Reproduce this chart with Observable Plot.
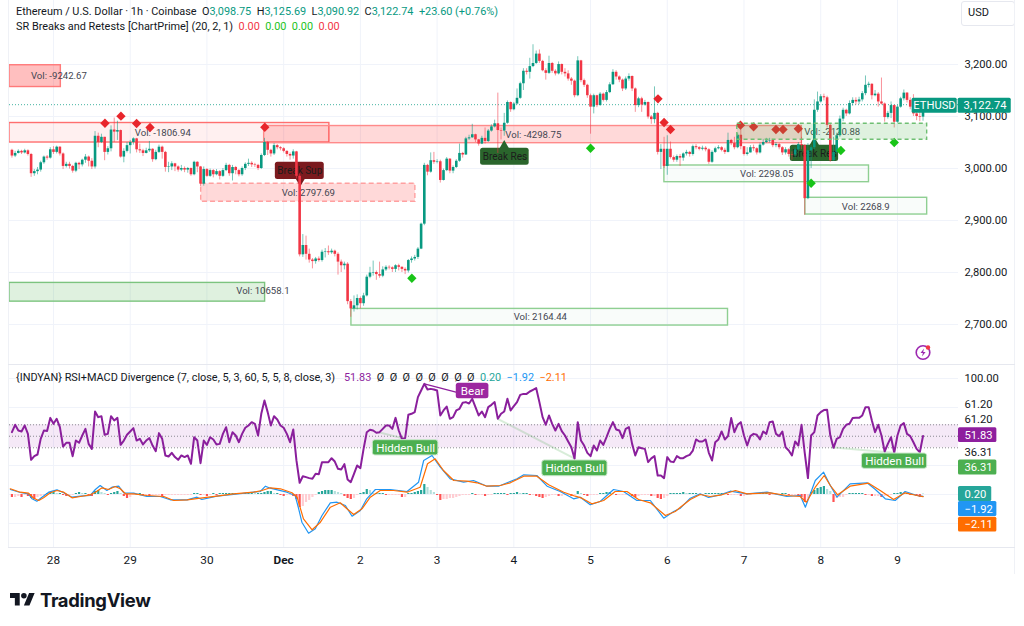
<!DOCTYPE html>
<html><head><meta charset="utf-8">
<script src="https://cdn.jsdelivr.net/npm/d3@7"></script>
<script src="https://cdn.jsdelivr.net/npm/@observablehq/plot@0.6"></script>
<style>
html,body{margin:0;padding:0;background:#fff}
#page{position:relative;width:1024px;height:626px;overflow:hidden;font-family:Roboto,sans-serif;color:#131722;background:#fff}
#page svg{position:absolute;left:0;overflow:visible;background:transparent;max-width:none}
.h{position:absolute;white-space:pre;font-size:10.9px;line-height:16px;color:#131722}
.b{color:#089981}
</style></head><body>
<div id="page">
  <div id="price"></div>
  <div id="lower"></div>
  <div id="macd"></div>
  <div class="h" style="left:16px;top:4px">Ethereum / U.S. Dollar · 1h · Coinbase  O<span class="b">3,098.75</span>  H<span class="b">3,125.69</span>  L<span class="b">3,090.92</span>  C<span class="b">3,122.74</span>  <span class="b">+23.60 (+0.76%)</span></div>
  <div class="h" style="left:16px;top:19px">SR Breaks and Retests [ChartPrime] (20, 2, 1)  <span style="color:#f23645">0.00</span>  <span style="color:#22c322">0.00</span>  <span style="color:#22c322">0.00</span>  <span style="color:#f23645">0.00</span></div>
  <div class="h" style="left:16px;top:370px">{INDYAN} RSI+MACD Divergence (7, close, 5, 3, 60, 5, 5, 8, close, 3)</div>
  <div class="h" style="left:344px;top:370px"><span style="color:#8e1f9e">51.83</span>  Ø  Ø  Ø  Ø  Ø  Ø  Ø  Ø  <span style="color:#26a69a">0.20</span>  <span style="color:#2196f3">−1.92</span>  <span style="color:#ff6d00">−2.11</span></div>
  <div style="position:absolute;left:961px;top:1px;width:52px;height:23px;border:1px solid #e6e8ef;border-radius:3px;box-sizing:content-box"><span class="h" style="left:6px;top:3px;font-size:11px">USD</span></div>
  <div style="position:absolute;left:8px;top:0;width:1px;height:547px;background:#eff1f6"></div>
  <div style="position:absolute;left:1014px;top:0;width:1px;height:574px;background:#eff1f6"></div>
  <div style="position:absolute;left:8px;top:364px;width:1007px;height:1px;background:#e6e8ef"></div>
  <div style="position:absolute;left:8px;top:547px;width:1007px;height:1px;background:#e6e8ef"></div>
  <svg style="left:914px;top:343px" width="18" height="18" viewBox="0 0 18 18"><circle cx="9" cy="9.5" r="6.8" fill="#fff" stroke="#9c27b0" stroke-width="1.6"/><path d="M10 5.5 6.5 10h2.4L8 13.5l3.6-4.6H9.2z" fill="#9c27b0"/><circle cx="14" cy="4.5" r="2.2" fill="#f23645"/></svg>
  <svg style="left:10px;top:590px" width="25" height="20" viewBox="0 0 36 28"><path d="M14 22H7V11H0V4h14v18zM28 22h-8l7.5-18h8L28 22z" fill="#131722"/><circle cx="20" cy="8" r="4" fill="#131722"/></svg>
  <div class="h" style="left:40px;top:587px;font-family:Inter,sans-serif;font-weight:700;font-size:18.4px;line-height:26px;letter-spacing:-.3px">TradingView</div>
</div>
<script>
// ---------- price candles: one row per hour, hour 0 = 28 Nov 00:00 ----------
const firstOpen = 3035;
const closes = [3024,3029,3033,3030,3034,3027,2990,2994,2997,3011,3022,3020,3036,
3031,3041,3028,3004,3008,3004,2995,3010,3007,3016,3022,3014,3003,
3062,3050,3060,3031,3038,3074,3070,3073,3022,3033,3044,3050,3057,3036,3034,3029,3034,3037,3017,3031,3041,3031,3002,3003,3009,3003,2997,3000,2997,3000,2988,3012,3003,
2970,2998,2985,2996,2988,2994,2985,2996,3006,2990,3002,2996,2988,3000,3008,3010,3007,3006,3000,3025,3050,3035,3028,3044,3040,3038,3033,3027,3024,3032,
2985,2834,2852,2835,2824,2821,2826,2823,2839,2840,2838,2841,2835,2820,2813,2816,2744,2730,2736,2750,2740,2755,2791,2799,2800,2796,2793,2805,
2810,2809,2806,2813,2810,2806,2803,2823,2826,2829,2845,2893,3006,2993,3015,3012,3013,2977,2996,3018,2995,3002,3014,3029,3026,3057,3059,3065,3055,3047,3058,3052,3072,3080,3086,3073,3072,3087,3127,3113,3124,3135,3163,3187,3185,3196,3202,3220,3206,3188,3183,3202,3187,3182,3200,
3185,3182,3172,3168,3140,3207,3169,3160,3140,3118,3140,3121,3143,3131,3146,3161,3185,3176,3170,3153,3172,3177,3153,3121,3134,3122,3127,3099,3094,3106,3031,3037,3004,3037,3021,3016,3023,3020,3028,3031,3027,3042,3040,3037,3039,3036,3012,3031,3038,3040,3035,3031,3054,3048,3040,3064,
3042,3027,3030,3040,3038,3030,3045,3050,3053,3054,3044,3046,3040,3030,3036,3027,3026,3036,3046,3044,2942,3034,3040,3112,3128,3138,3136,3083,3015,3031,3063,3095,3112,3105,3125,3131,3128,3132,3144,3160,3162,3140,3143,3128,3124,3098,3106,3121,3089,3118,3134,3145,3131,3118,3105,3100,3098.75,3122.74];
const highs = [3037,3033,3036,3035,3037,3036,3029,2998,3002,3014,3024,3025,3040,
3042,3043,3042,3030,3012,3012,3006,3012,3012,3018,3027,3024,3019,
3071,3068,3066,3060,3042,3082,3097,3091,3074,3038,3050,3054,3059,3058,3047,3037,3039,3052,3038,3035,3045,3043,3033,3012,3013,3010,3005,3006,3003,3002,3001,3014,3013,
3004,3003,3000,2999,2998,2998,2996,3000,3010,3008,3006,3004,2998,3003,3011,3018,3013,3010,3008,3028,3058,3052,3037,3048,3046,3042,3040,3034,3030,3036,
3033,2990,2873,2870,2845,2827,2829,2830,2843,2846,2851,2845,2843,2838,2824,2820,2819,2748,2755,2757,2753,2760,2795,2810,2822,2803,2820,2811,
2813,2813,2811,2815,2816,2811,2809,2825,2830,2833,2848,2895,3010,3008,3030,3031,3017,3016,2999,3021,3019,3005,3017,3047,3031,3060,3064,3085,3066,3056,3062,3078,3075,3084,3093,3145,3078,3106,3130,3128,3127,3153,3166,3192,3192,3212,3238,3226,3228,3208,3192,3216,3204,3190,3205,
3201,3192,3188,3175,3170,3215,3208,3172,3162,3143,3143,3141,3146,3145,3150,3165,3190,3188,3178,3172,3176,3182,3178,3155,3137,3137,3131,3128,3102,3157,3108,3046,3060,3063,3051,3024,3026,3027,3030,3035,3033,3045,3046,3042,3043,3042,3038,3034,3041,3044,3042,3039,3068,3056,3060,3068,
3076,3041,3040,3044,3045,3040,3049,3056,3058,3058,3056,3050,3048,3042,3040,3038,3032,3040,3050,3060,3046,3048,3044,3132,3147,3142,3143,3139,3085,3060,3068,3101,3116,3114,3130,3136,3136,3137,3148,3178,3166,3163,3150,3146,3174,3126,3110,3128,3122,3121,3137,3151,3146,3136,3142,3114,3108,3125.69];
const lows = [3020,3021,3028,3027,3028,3024,2983,2985,2988,2993,3008,3016,3018,
3027,3028,3024,2998,3001,2999,2991,2992,2998,3003,3010,3003,2998,
2999,3040,3048,3015,3026,3032,3050,3054,3020,3011,3030,3028,3045,3030,3029,3023,3028,3031,3012,3015,3029,3018,2993,2992,2996,2994,2993,2994,2992,2991,2985,2986,2992,
2965,2966,2983,2983,2982,2986,2978,2983,2994,2985,2976,2988,2984,2985,2996,3004,3002,3002,2996,2998,3023,3025,3022,3025,3036,3034,3030,3022,3016,3018,
2980,2830,2829,2824,2818,2807,2816,2820,2820,2828,2833,2835,2830,2795,2800,2805,2738,2714,2724,2728,2730,2735,2753,2788,2793,2785,2789,2790,
2802,2805,2800,2800,2803,2800,2796,2799,2818,2822,2825,2844,2890,2986,2991,3008,3009,2972,2976,2994,2990,2990,3000,3012,3020,3025,3054,3058,3050,3043,3046,3047,3050,3070,3078,3029,3055,3062,3085,3108,3111,3122,3133,3150,3180,3172,3194,3200,3202,3186,3170,3181,3183,3178,3180,
3180,3176,3168,3160,3136,3138,3165,3156,3135,3066,3105,3117,3120,3128,3128,3144,3160,3170,3165,3148,3150,3168,3148,3108,3117,3108,3120,3095,3085,3086,3026,2998,3000,2987,3018,3012,3012,3004,3014,3024,3022,3024,3036,3034,3034,3032,3008,3010,3029,3036,3032,3027,3030,3044,3036,3038,
3036,3024,3024,3030,3033,3026,3028,3043,3048,3049,3040,3040,3036,3025,3026,3022,3016,3020,3034,3036,2910,2940,3000,3036,3108,3126,3130,3078,3012,3014,3028,3060,3090,3100,3103,3120,3122,3123,3128,3140,3155,3132,3138,3118,3122,3089,3095,3096,3078,3087,3116,3130,3126,3113,3100,3092,3090,3090.92];

// ---------- support / resistance zones ----------
const zoneStart  = [-13.76,-13.76,65.9,213.9,46.2,-13.76,93.2,191.1,235.2];
const zoneEnd    = [2.3,86.3,234.1,273.3,113.2,66.2,211,255.1,273.3];
const zoneTop    = [3198.6,3087.5,3081.7,3086,2970.6,2780,2730,3005.8,2943.7];
const zoneBottom = [3156.7,3050,3048.7,3055.2,2936,2744,2698,2973.7,2911.5];
const volLabels  = ["Vol: -9242.67","Vol: -1806.94","Vol: -4298.75","Vol: -2120.88","Vol: 2797.69","Vol: 10658.1","Vol: 2164.44","Vol: 2298.05","Vol: 2268.9"];
const volHour    = [1.7,34.2,150.1,243.6,79.7,65.5,152.3,223.1,254.1];
const volPrice   = [3178.8,3069.2,3065.4,3071.2,2953.9,2764.4,2715.4,2990.4,2926.9];

const redDiamondHour  = [16.1,21.1,26,30.2,66.1,189.1,191,193,214.9,219,226,228.2,233];
const redDiamondPrice = [3087.1,3100.6,3086.5,3078.9,3079.4,3134,3088.5,3075,3083.3,3080.2,3075,3075,3076.4];
const greenDiamondHour  = [112.1,168,237,246.3,263];
const greenDiamondPrice = [2789,3039,2971.7,3034.6,3050];

const breakText  = ["Break Sup","Break Res","Break Res"];
const breakStart = [69.4,133.6,230.5];
const breakEnd   = [84.7,148.8,245.6];
const breakTop   = [3012,3039,3044.8];
const breakBottom= [2978.8,3006.4,3013.5];
const breakTipHour = [77.2,141,238];
const breakTipPrice= [2976,3044,3050];

const priceTicks = [3200,3100,3000,2900,2800,2700];
const dayTicks = [0,24,48,72,96,120,144,168,192,216,240,264];
const dayLabels = ["28","29","30","Dec","2","3","4","5","6","7","8","9"];

// ---------- RSI, read per hour in three stretches ----------
const rsiA = [55,61.2,56.4,55.6,60.6,53.6,31.8,34.9,36.3,49.4,56.4,55.9,67,62,66.2,59.2,43,46.1,46.1,34.9,48,46.1,52.2,57.8,45.2,41,72.3,67.6,68.4,52.8,53.6,68.4,64.8,67,44.4,48,52.8,55.6,58.4,48,49.4,44.7,48,50,43.8,39.1,54.2,49.4,35.5,34.6,37.7,34.1,31.8,35.5,34.1,35.5,28.5,50.8,48,29,48,44.4,50.8,48.9,44.7,45.2,53.6,59.2,46.6,55,52.2,46.6,53.6,58.7,60.6,63.4,62,52.2,70.4,81.6,71.8,60.6,68.4,65.6,60.6,58.7,53.6,46.6,57.3,31.3,12.6,18.1,17.3,16.5,15.9,20.1,19.8,29.9,29.9,29.9,33.2,30.4,24.3];
const rsiB = [23.7,28.2,15.3,13.1,20.1,27.1,24.8,41,55,57,56.4,54.5,55,57.8,60.6,60.6,57.8,67,56.4,49.4,50,69.6,70.4,71.8,84.4,89.9,95.5,90.8,91.3,90.8,89.9,69,73.2,76.5,66.2,67.6,73.2,74.6,79.6,80.2,79,83,76,69,72.3,67.6,76,77.9,80.2,66.2,70.4,72.3,83,73.2,76.8,80.2,86.3,87.1,87.1,89.1,90.5,91.9,80.2,67.6,61.2,69,62,56.4,62,55.9,52.2,47.2,42.4,32.7,63.4,48,43.8,37.7,34.9,43.8,39.6,48,44.4,50.8,57.8,63.4,57.3,56.4,50,57.8,59.2,45.2,35.5,42.4,41.5,41,29.9,33,34.9,18.7,18.7,16.5,34.1,30.4,29.9,34.9,33.2];
const rsiC = [33.2,34.9,36,39.6,48.9,47.2,47.2,48.9,37.7,31.3,46.6,48.9,55.6,48.9,51.7,66.8,55,61.2,63.4,52.2,43.8,51.7,53.6,52.8,48.9,55.6,53.6,63.4,64,53.6,51.7,55.6,42.4,39.6,35.5,47.2,43.8,61.2,37.7,16.5,52.2,55,69,71.8,73.5,73.7,52.2,41.9,49.4,50.8,57.8,61.2,62,66.8,67,67,69,76,76,64.8,55,61.2,52.2,38.8,45.2,50.8,37.7,52.2,60.6,62.6,53.6,51.7,46.6,41,38.2,51.83];
const rsiBandLevels = [61.2,51.6,41.9];

const macdHour = [-13.5,-10.4,-7.8,-6.7,-5.2,-3.6,-1.5,1.1,3.2,5.8,8.4,11.5,13.1,14.6,16.7,18.3,20.4,22,25.1,29.2,33.4,36.5,41.8,44.9,46.4,51.1,56.3,62.6,64.7,66.3,67.8,73,75.6,76.7,77.7,79.8,81.9,84,86.6,88.7,91.3,93.4,96,98,100.7,105.4,110.6,114.2,115.8,118.4,121,124.1,128.3,131.4,135.6,139.2,141.9,145,147.1,151.2,154.4,158.5,162.7,164.8,167.9,171,175.2,178.3,182.5,186.7,190.9,194,196.1,199.2,202.3,204.9,208.6,211.7,216.9,223.2,229.4,233.6,235.2,238.3,240.9,243,245.1,249.2,254.5,257.1,260.2,263.3,266.4,270.1,272];
const macdLine = [5,2,0.7,-4.3,-6.7,-2.7,2.3,4.7,1.7,-2.7,-1.7,-1,5,9,4,7.3,8.3,1.7,1.3,-2,-2,-5.3,-5.3,-2.7,-5,-1.7,0,2.3,3,8.3,6.3,2.3,-1,-14.3,-27.7,-38.7,-34.3,-21,-8.3,-7.7,-11,-21.7,-16,-4.3,5,5,3,12.3,34,39,27.3,15.7,12.3,14,8.3,8.3,11.7,15.7,19.7,19,8.3,3,-4.3,-2.7,-10.3,-7,5,3,-6,-6,-23.7,-17,-13.7,-3.7,0.7,-3,-0.3,3.3,0.7,2.3,-2,-1,-12.7,14,22.3,9,-2.7,10.7,11.7,5,-4.3,-6,3,-1,-1.92];
const signalHour = [-13.5,-10.4,-7.8,-6.2,-4.6,-3.1,-1,1.1,3.2,5.8,8.4,11.5,13.1,15.2,17.2,19.3,20.9,22.5,25.1,29.2,34.5,37.6,41.8,46,51.1,56.3,62.6,65.2,67.8,71,74.6,76.2,78.2,80.9,83.5,86.6,89.7,91.8,93.9,96.5,99.1,102.2,106.4,110.6,114.7,117,119.4,122,125.2,129.3,132.5,135.6,139.8,142.9,147.1,151.2,154.9,159.6,163.2,165.3,168.4,172.1,175.7,179.4,183,186.7,191.4,194.5,196.1,199.2,202.3,205.4,209.1,213.3,216.9,224.2,229.4,233.6,235.5,238.3,241.1,243,245.3,249.2,255,258.6,262.8,266.4,270.1,272];
const signalLine = [5.7,2.3,1.3,-3.7,-6,-3.3,1.7,4,2.3,-3.3,-2,-0.3,2.3,6.7,5,8,5.7,0.7,0.7,-1,-2,-6,-5.3,-3.7,-1.7,0.7,2.3,4,6.7,5.7,1.7,-2.7,-24.3,-35.3,-27.7,-12.7,-8.3,-14.3,-20,-14.3,-2.7,4,4,2.3,7.3,30.7,35.7,24,14,13.3,11.7,8.3,9,11.7,18.3,18.3,9.7,2.3,-1.7,-3.7,-9.3,-6,3,3,-5,-8.3,-21,-17,-12.7,-5,0,-2,-0.3,4,0.7,1.7,-1,-2,-7.7,7.3,19,9,-0.3,8.3,11.3,4,-5,1.7,-1,-2.11];
const histA = [-3,-3,-2,-3,-1,-2,-4,-5,-3,-2,-1,1,2,2,1,1,-1,-2,-1,-1,1,2,1,1,-1,-2,3,4,2,1,-1,1,2,3,1,-2,-4,-3,-1,-1,1,-1,-1,-2,-1,-1,-1,-2,-1,-1,-1,-1,-1,-1,-1,-1,-1,1,1,-1,-1,-2,-1,1,-1,1,1,1,1,1,1,1,1,1,1,2,1,1,1,2,3,3,1,1,-1,-2,-1,-1,-2,-5,-13,-12,-8,-6,-3,-1,2,3,4,4,4,3,2,1];
const histB = [-2,-4,-5,-4,-1,1,2,5,4,1,1,1,1,-1,-1,-1,-1,-1,-3,-3,1,1,2,3,4,10,7,4,2,-1,-6,-5,-5,-4,-4,-3,-2,-1,-1,-1,1,-1,-1,-1,-2,-1,-1,1,1,1,1,-1,1,1,2,1,1,1,-1,-1,-2,-3,-4,-3,-2,-1,-1,-2,-2,-1,-1,-2,-1,3,1,-1,-2,-1,-1,-1,1,1,2,2,1,-1,-1,-1,-1,-1,-2,-3,-2,-1,-1,-1,-2,-2,-4,-5,-4,-2,1,1,1];
const histC = [1,2,1,1,1,1,-1,-1,1,1,1,1,1,1,1,-1,-1,-1,-1,-2,-2,-1,-1,1,1,1,1,1,-1,-1,-1,-1,1,1,-1,-1,-1,-2,-3,-8,-6,2,4,6,7,8,5,3,-8,-4,-3,-3,-1,1,1,1,1,1,-1,-1,-2,-2,-2,-3,-2,-2,-1,1,1,2,1,1,-1,-1,-2,-3,0.2];

const hbStart=[99.9,152.9,252.9], hbEnd=[120.4,173.3,273.3], hbTop=[48.3,31.3,37.1], hbBottom=[35.5,18.1,24.3];
const hbFromHour=[101.7,138.9,243.2], hbToHour=[110,163.2,262.8], hbFromRsi=[55,66.2,42.4], hbToRsi=[49.4,32.7,37.7];

// pane right-hand labels: stacking position on the RSI scale, text
const paneLabelAt=[100,78.2,65.6,38], paneLabelText=["100.00","61.20","61.20","36.31"];
const paneTagAt=[52.6,25.4,3.2,-9.4,-22.4], paneTagText=["51.83","36.31","0.20","−1.92","−2.11"], paneTagColor=["#8e1f9e","#4caf50","#26a69a","#2196f3","#ff6d00"], paneTagWidth=[12,12,10.4,12,12];

// ---------- tables ----------
const hours = d3.range(-13,273);
const candles = hours.map((h,i)=>({h,o:i?closes[i-1]:firstOpen,c:closes[i],hi:highs[i],lo:lows[i]}));
const up = candles.filter(d=>d.c>=d.o), dn = candles.filter(d=>d.c<d.o);
const zones = zoneStart.map((s,i)=>({s,e:zoneEnd[i],t:zoneTop[i],b:zoneBottom[i]}));
const vols = volLabels.map((t,i)=>({t,h:volHour[i],p:volPrice[i]}));
const reds = redDiamondHour.map((h,i)=>({h,p:redDiamondPrice[i]}));
const greens = greenDiamondHour.map((h,i)=>({h,p:greenDiamondPrice[i]}));
const breaks = breakText.map((t,i)=>({t,s:breakStart[i],e:breakEnd[i],top:breakTop[i],bot:breakBottom[i],th:breakTipHour[i],tp:breakTipPrice[i],fill:i?"#2a652c":"#7b1a1e"}));

const font='Roboto,sans-serif';
const xOpt={domain:[-13.76,283.1],range:[9,958],axis:null};
const gridColor="#f0f3fa";
const up_c="#089981", dn_c="#f23645", xMax=283.1;
const zoneMark=(i,fill,fillOpacity,stroke,extra={})=>Plot.rect([zones[i]],{x1:"s",x2:"e",y1:"t",y2:"b",fill,fillOpacity,stroke,strokeWidth:1.4,...extra});

const price = Plot.plot({
  width:1024,height:364,marginLeft:9,marginRight:66,marginTop:0,marginBottom:0,
  style:{fontFamily:font,background:"transparent"},
  x:xOpt,y:{domain:[2623.1,3323.1],range:[364,0]},
  marks:[
    Plot.gridX({ticks:dayTicks,stroke:gridColor,strokeOpacity:1}),
    Plot.gridY({ticks:priceTicks,stroke:gridColor,strokeOpacity:1}),
    Plot.axisY({anchor:"right",ticks:priceTicks,tickSize:0,tickPadding:6,tickFormat:d3.format(",.2f"),label:null,fontSize:11.2,fill:"#131722"}),
    zoneMark(0,"#ff0000",.25,"#ff7a7a"),
    zoneMark(1,"#ff0000",.06,"#ff6f6f"),
    zoneMark(2,"#ff0000",.15,"#ff8a8a"),
    zoneMark(4,"#ff0000",.15,"#ffa0a0",{strokeDasharray:"5,3"}),
    zoneMark(5,"#4caf50",.18,"#7cc47f"),
    zoneMark(6,"#4caf50",.03,"#8fcf92"),
    zoneMark(7,"#4caf50",.03,"#8fcf92"),
    zoneMark(8,"#4caf50",.03,"#8fcf92"),
    Plot.text(vols,{x:"h",y:"p",text:"t",fontSize:9.6,fill:"#434651",textAnchor:"middle"}),
    Plot.rect(breaks,{x1:"s",x2:"e",y1:"top",y2:"bot",fill:"fill",rx:2.5}),
    Plot.dot(breaks.slice(0,1),{x:"th",y:"tp",symbol:"triangle",r:3.6,fill:"fill",rotate:180}),
    Plot.dot(breaks.slice(1),{x:"th",y:"tp",symbol:"triangle",r:3.6,fill:"fill"}),
    Plot.text(breaks,{x:d=>(d.s+d.e)/2,y:d=>(d.top+d.bot)/2,text:"t",fontSize:10,fill:"#1c1c1c"}),
    Plot.ruleY([closes[closes.length-1]],{stroke:"#089981",strokeOpacity:.75,strokeDasharray:"1,2",strokeWidth:1}),
    Plot.ruleX(up,{x:"h",y1:"lo",y2:"hi",stroke:up_c,strokeWidth:1,strokeOpacity:.55}),
    Plot.ruleX(dn,{x:"h",y1:"lo",y2:"hi",stroke:dn_c,strokeWidth:1,strokeOpacity:.55}),
    Plot.ruleX(up,{x:"h",y1:"o",y2:"c",stroke:up_c,strokeWidth:2.6}),
    Plot.ruleX(dn,{x:"h",y1:"o",y2:"c",stroke:dn_c,strokeWidth:2.6}),
    Plot.dot(reds,{x:"h",y:"p",symbol:"diamond2",r:4.2,fill:"#e8262c"}),
    Plot.dot(greens,{x:"h",y:"p",symbol:"diamond2",r:4.2,fill:"#18c418"}),
    zoneMark(3,"#4caf50",.18,"#6fbf73",{strokeDasharray:"4,3"}),
    // last price tag
    Plot.rect([{a:268.6,b:282.7},{a:283,b:299.6}],{x1:"a",x2:"b",y1:()=>3135.2,y2:()=>3106.4,fill:"#089981",rx:1.5}),
    Plot.text(["ETHUSD"],{x:()=>275.6,y:()=>3120.8,text:d=>d,fill:"#fff",fontSize:11.2}),
    Plot.text(["3,122.74"],{x:()=>291.4,y:()=>3120.8,text:d=>d,fill:"#fff",fontSize:11.2})
  ]
});
price.style.top="0px";
document.getElementById("price").append(price);

const rsi=[...rsiA.map((v,i)=>({h:-13+i,v})),...rsiB.map((v,i)=>({h:90+i,v})),...rsiC.map((v,i)=>({h:197+i,v}))];
const hbLabels=hbStart.map((s,i)=>({s,e:hbEnd[i],t:hbTop[i],b:hbBottom[i]}));
const hbLinks=hbFromHour.map((a,i)=>({a,b:hbToHour[i],u:hbFromRsi[i],w:hbToRsi[i]}));
const lower = Plot.plot({
  width:1024,height:210,marginLeft:9,marginRight:66,marginTop:0,marginBottom:27,
  style:{fontFamily:font,background:"transparent"},
  x:xOpt,y:{domain:[-41.66,111.73],range:[183,0],axis:null},
  marks:[
    Plot.gridX({ticks:dayTicks,stroke:gridColor,strokeOpacity:1}),
    Plot.gridY({ticks:[100,75.7,27.1,2.8,-21.5],stroke:gridColor,strokeOpacity:1}),
    Plot.axisX({ticks:dayTicks.filter(d=>d!==72),tickSize:0,tickPadding:8,tickFormat:d=>dayLabels[dayTicks.indexOf(d)],label:null,fontSize:11.8,fill:"#131722"}),
    Plot.axisX({ticks:[72],tickSize:0,tickPadding:8,tickFormat:()=>dayLabels[3],label:null,fontSize:11.8,fontWeight:700,fill:"#131722"}),
    Plot.rect([rsiBandLevels],{x1:()=>-13.76,x2:()=>283.1,y1:d=>d[0],y2:d=>d[2],fill:"#9c27b0",fillOpacity:.1}),
    Plot.ruleY(rsiBandLevels,{stroke:"#8a8a92",strokeDasharray:"1,2"}),
    Plot.link(hbLinks,{x1:"a",x2:"b",y1:"u",y2:"w",stroke:"#4caf50",strokeOpacity:.22,strokeWidth:2}),
    Plot.link([0],{x1:()=>116,x2:()=>131,y1:()=>95.5,y2:()=>85,stroke:"#8e1f9e",strokeWidth:1.2}),
    Plot.line(rsi,{x:"h",y:"v",stroke:"#8a1f9c",strokeWidth:2,strokeLinejoin:"round"}),
    Plot.rect(hbLabels,{x1:"s",x2:"e",y1:"t",y2:"b",fill:"#4caf50",stroke:"#c9e7ca",strokeWidth:1,rx:2.5}),
    Plot.text(hbLabels,{x:d=>(d.s+d.e)/2,y:d=>(d.t+d.b)/2,text:()=>"Hidden Bull",fill:"#fff",fontSize:11.6}),
    Plot.rect([0],{x1:()=>126,x2:()=>136.2,y1:()=>96.1,y2:()=>83,fill:"#9c27a0",rx:2.5}),
    Plot.text(["Bear"],{x:()=>131.1,y:()=>89.5,text:d=>d,fill:"#fff",fontSize:11.6}),
    Plot.text(paneLabelText,{x:()=>xMax,y:(d,i)=>paneLabelAt[i],text:d=>d,dx:6,textAnchor:"start",fontSize:11.2,fill:"#131722"}),
    Plot.rect(paneTagText,{x1:()=>xMax,x2:(d,i)=>xMax+paneTagWidth[i],y1:(d,i)=>paneTagAt[i]+6.2,y2:(d,i)=>paneTagAt[i]-6.2,fill:(d,i)=>paneTagColor[i],rx:1.5}),
    Plot.text(paneTagText,{x:()=>xMax,y:(d,i)=>paneTagAt[i],text:d=>d,dx:6,textAnchor:"start",fontSize:11.2,fill:"#fff"})
  ]
});
lower.style.top="364px";
document.getElementById("lower").append(lower);

const hist=[...histA.map((v,i)=>({h:-13+i,v})),...histB.map((v,i)=>({h:91+i,v})),...histC.map((v,i)=>({h:196+i,v}))];
hist.forEach((d,i)=>{const p=i?hist[i-1].v:0; d.col=d.v>=0?(d.v>=p?"#26a69a":"#b2dfdb"):(d.v<p?"#ff5252":"#ffcdd2");});
const macd = Plot.plot({
  width:1024,height:210,marginLeft:9,marginRight:66,marginTop:0,marginBottom:27,
  style:{fontFamily:font,background:"transparent"},
  x:xOpt,y:{domain:[-53,130],range:[183,0],axis:null},
  marks:[
    Plot.ruleX(hist,{x:"h",y1:()=>0,y2:"v",stroke:"col",strokeWidth:2.2}),
    Plot.line(macdHour.map((h,i)=>({h,v:macdLine[i]})),{x:"h",y:"v",stroke:"#2196f3",strokeWidth:1.2}),
    Plot.line(signalHour.map((h,i)=>({h,v:signalLine[i]})),{x:"h",y:"v",stroke:"#ff6d00",strokeWidth:1.2})
  ]
});
macd.style.top="364px";
document.getElementById("macd").append(macd);
</script>
</body></html>
